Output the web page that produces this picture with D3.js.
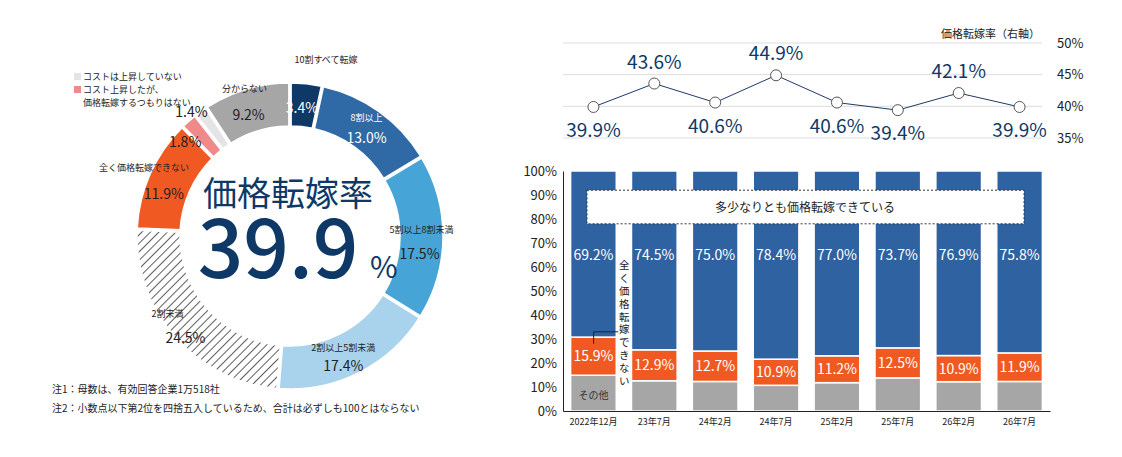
<!DOCTYPE html>
<html lang="ja">
<head>
<meta charset="UTF-8">
<script src="https://cdn.jsdelivr.net/npm/d3@7"></script>
<style>
body{margin:0;background:#fff;font-family:"Noto Sans CJK JP","Noto Sans",sans-serif;}
svg text{font-family:"Noto Sans CJK JP","Noto Sans",sans-serif;}
</style>
</head>
<body>
<svg id="c" width="1122" height="457"></svg>
<script>
// donut data
var donutLabels = ["10割すべて転嫁","8割以上","5割以上8割未満","2割以上5割未満","2割未満","全く価格転嫁できない","コスト上昇したが、価格転嫁するつもりはない","コストは上昇していない","分からない"];
var donutValues = [3.4,13.0,17.5,17.4,24.5,11.9,1.8,1.4,9.2];
var donutColors = ["#0e3866","#2f6aa6","#46a5d6","#a9d3ec","url(#hatch)","#f05a22","#f08a8a","#e4e4e6","#a6a6a6"];

// bar data
var periods = ["2022年12月","23年7月","24年2月","24年7月","25年2月","25年7月","26年2月","26年7月"];
var passOn = [69.2,74.5,75.0,78.4,77.0,73.7,76.9,75.8];
var noPass = [15.9,12.9,12.7,10.9,11.2,12.5,10.9,11.9];
var rate = [39.9,43.6,40.6,44.9,40.6,39.4,42.1,39.9];

var svg = d3.select("#c");
var defs = svg.append("defs");
var pat = defs.append("pattern").attr("id","hatch").attr("patternUnits","userSpaceOnUse")
  .attr("width",6).attr("height",6).attr("patternTransform","rotate(45)");
pat.append("rect").attr("width",6).attr("height",6).attr("fill","#fff");
pat.append("line").attr("x1",0).attr("y1",0).attr("x2",0).attr("y2",6).attr("stroke","#333").attr("stroke-width",1.6);

// ---- donut ----
var cx = 290, cy = 236, rO = 153, rI = 110;
var pie = d3.pie().sort(null).value(function(d){return d;});
var arc = d3.arc().innerRadius(rI).outerRadius(rO).padAngle(0.012);
var dg = svg.append("g").attr("transform","translate("+cx+","+cy+")");
var arcs = pie(donutValues);
dg.selectAll("path").data(arcs).enter().append("path")
  .attr("d",arc).attr("fill",function(d,i){return donutColors[i];})
  .attr("stroke","#fff").attr("stroke-width",1.5);

var lab = d3.arc().innerRadius((rI+rO)/2).outerRadius((rI+rO)/2);
var valColor = ["#fff","#fff","#222","#222","#222","#222","#222","#222","#222"];
var valOff = [[-2,8],[0,14],[-2,22],[-6,18],[-6,20],[-6,16],[-18,10],[-22,-12],[-4,10]];
var nameOff = [[22,-42],[0,-8],[0,-4],[-6,-2],[-24,-6],[-26,-12],null,null,[-8,-18]];
arcs.forEach(function(a,i){
  var p = lab.centroid(a);
  dg.append("text").attr("x",p[0]+valOff[i][0]).attr("y",p[1]+valOff[i][1]).attr("text-anchor","middle")
    .attr("font-size",14).attr("fill",valColor[i]).text(donutValues[i].toFixed(1)+"%");
  if(nameOff[i]){
    dg.append("text").attr("x",p[0]+nameOff[i][0]).attr("y",p[1]+nameOff[i][1]).attr("text-anchor","middle")
      .attr("font-size",9).attr("fill",i==1?"#fff":"#222").text(donutLabels[i]);
  }
});
// legend for small slices
var lg = svg.append("g").attr("transform","translate(74,80)");
lg.append("rect").attr("x",0).attr("y",-7).attr("width",7).attr("height",7).attr("fill",donutColors[7]);
lg.append("text").attr("x",9).attr("y",0).attr("font-size",9).attr("fill","#222").text(donutLabels[7]);
lg.append("rect").attr("x",0).attr("y",6).attr("width",7).attr("height",7).attr("fill",donutColors[6]);
lg.append("text").attr("x",9).attr("y",13).attr("font-size",9).attr("fill","#222").text("コスト上昇したが、");
lg.append("text").attr("x",9).attr("y",26).attr("font-size",9).attr("fill","#222").text("価格転嫁するつもりはない");

dg.append("text").attr("x",-2).attr("y",-30).attr("text-anchor","middle").attr("font-size",34).attr("fill","#0e3866").text("価格転嫁率");
dg.append("text").attr("x",-12).attr("y",42).attr("text-anchor","middle").attr("font-size",80).attr("font-weight",500)
  .attr("fill","#0e3866").text("39.9");
dg.append("text").attr("x",80).attr("y",42).attr("font-size",30).attr("fill","#0e3866").text("%");

svg.append("text").attr("x",52).attr("y",393).attr("font-size",10).attr("fill","#222").text("注1：母数は、有効回答企業1万518社");
svg.append("text").attr("x",52).attr("y",412).attr("font-size",10).attr("fill","#222").text("注2：小数点以下第2位を四捨五入しているため、合計は必ずしも100とはならない");

// ---- bars ----
var L = 563, R = 1050, T = 171, B = 411;
var x = d3.scaleBand().domain(periods).range([L,R]).paddingInner(0.25).paddingOuter(0.125);
var y = d3.scaleLinear().domain([0,100]).range([B,T]);
var bg = svg.append("g");
periods.forEach(function(p,i){
  var other = 100-passOn[i]-noPass[i];
  var segs = [[0,other,"#a6a6a6"],[other,other+noPass[i],"#f05a22"],[other+noPass[i],100,"#2f62a0"]];
  segs.forEach(function(s){
    bg.append("rect").attr("x",x(p)).attr("width",x.bandwidth())
      .attr("y",y(s[1])).attr("height",y(s[0])-y(s[1])).attr("fill",s[2])
      .attr("stroke","#fff").attr("stroke-width",1.5);
  });
  var cxp = x(p)+x.bandwidth()/2;
  bg.append("text").attr("x",cxp).attr("y",y(63)).attr("text-anchor","middle").attr("font-size",14).attr("fill","#fff").text(passOn[i].toFixed(1)+"%");
  bg.append("text").attr("x",cxp).attr("y",y(other+noPass[i]/2)+5).attr("text-anchor","middle").attr("font-size",14).attr("fill","#fff").text(noPass[i].toFixed(1)+"%");
});
bg.append("text").attr("x",x(periods[0])+x.bandwidth()/2).attr("y",y(5)).attr("text-anchor","middle").attr("font-size",10).attr("fill","#333").text("その他");

var ya = svg.append("g").attr("transform","translate("+L+",0)")
  .call(d3.axisLeft(y).ticks(10).tickSize(0).tickPadding(6).tickFormat(function(d){return d+"%";}));
ya.select(".domain").attr("stroke","#222");
ya.selectAll("text").attr("font-size",13).attr("fill","#222");
var xa = svg.append("g").attr("transform","translate(0,"+B+")").call(d3.axisBottom(x).tickSize(0).tickPadding(8));
xa.select(".domain").attr("stroke","#222");
xa.selectAll("text").attr("font-size",9).attr("fill","#222");

// dashed box
svg.append("rect").attr("x",587).attr("y",y(92)).attr("width",437).attr("height",y(78)-y(92))
  .attr("fill","#fff").attr("stroke","#333").attr("stroke-dasharray","2,2");
svg.append("text").attr("x",805).attr("y",y(85)+5).attr("text-anchor","middle").attr("font-size",12).attr("fill","#222").text("多少なりとも価格転嫁できている");

// vertical annotation
var vx = x(periods[0])+x.bandwidth()+8;
"全く価格転嫁できない".split("").forEach(function(ch,i){
  svg.append("text").attr("x",vx).attr("y",y(59)+i*12.8).attr("text-anchor","middle").attr("font-size",10.5).attr("fill","#222").text(ch);
});
svg.append("path").attr("d","M"+(x(periods[0])+23)+","+(y(28))+"V"+y(33)+"H"+(vx-6))
  .attr("fill","none").attr("stroke","#222");

// ---- line ----
var yl = d3.scaleLinear().domain([35,50]).range([138,43]);
[35,40,45,50].forEach(function(t){
  svg.append("line").attr("x1",L).attr("x2",R-8).attr("y1",yl(t)).attr("y2",yl(t)).attr("stroke","#ddd");
});
var ra = svg.append("g").attr("transform","translate("+(R+4)+",0)")
  .call(d3.axisRight(yl).tickValues([35,40,45,50]).tickSize(0).tickFormat(function(d){return d+"%";}));
ra.select(".domain").remove();
ra.selectAll("text").attr("font-size",13).attr("fill","#222");
svg.append("rect").attr("x",940).attr("y",26).attr("width",104).attr("height",16).attr("fill","#fff");
svg.append("text").attr("x",1040).attr("y",38).attr("text-anchor","end").attr("font-size",11).attr("fill","#222").text("価格転嫁率（右軸）");
var cxf = function(i){return x(periods[i])+x.bandwidth()/2;};
var line = d3.line().x(function(d,i){return cxf(i);}).y(function(d){return yl(d);});
svg.append("path").attr("d",line(rate)).attr("fill","none").attr("stroke","#1f3a66").attr("stroke-width",1);
var upIdx = [1,3,6];
rate.forEach(function(v,i){
  svg.append("circle").attr("cx",cxf(i)).attr("cy",yl(v)).attr("r",5.5).attr("fill","#fff").attr("stroke","#555");
  var up = upIdx.indexOf(i) >= 0;
  svg.append("text").attr("x",cxf(i)).attr("y",up?yl(v)-15:yl(v)+30).attr("text-anchor","middle")
    .attr("font-size",19).attr("fill","#0e3866").text(v.toFixed(1)+"%");
});
</script>
</body>
</html>
